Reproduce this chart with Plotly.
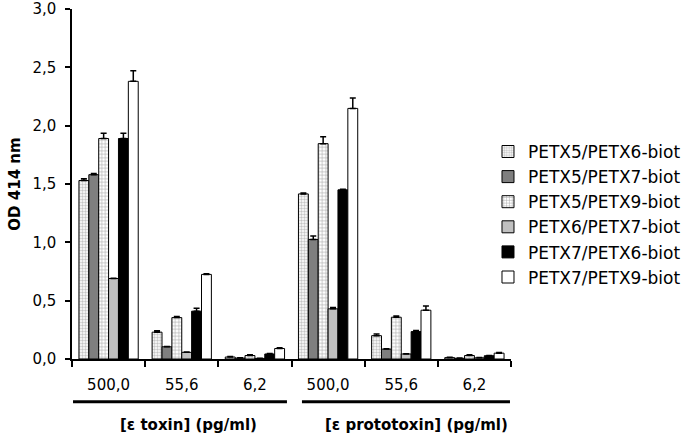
import plotly.graph_objects as go

categories = ["500,0", "55,6", "6,2", "500,0", "55,6", "6,2"]
series_names = ["PETX5/PETX6-biot", "PETX5/PETX7-biot", "PETX5/PETX9-biot",
                "PETX6/PETX7-biot", "PETX7/PETX6-biot", "PETX7/PETX9-biot"]
values = [
    [1.53, 0.23, 0.017, 1.415, 0.20, 0.012],
    [1.58, 0.105, 0.008, 1.025, 0.085, 0.006],
    [1.89, 0.355, 0.03, 1.846, 0.358, 0.03],
    [0.69, 0.057, 0.005, 0.43, 0.043, 0.01],
    [1.89, 0.41, 0.043, 1.45, 0.235, 0.028],
    [2.38, 0.725, 0.09, 2.148, 0.418, 0.05],
]
errors = [
    [0.015, 0.012, 0.004, 0.008, 0.015, 0.003],
    [0.01, 0.003, 0.002, 0.03, 0.003, 0.002],
    [0.045, 0.01, 0.006, 0.06, 0.01, 0.006],
    [0.003, 0.002, 0.002, 0.012, 0.002, 0.002],
    [0.045, 0.025, 0.004, 0.005, 0.01, 0.003],
    [0.09, 0.005, 0.006, 0.09, 0.037, 0.005],
]
group_labels = ["[ε toxin] (pg/ml)", "[ε prototoxin] (pg/ml)"]

styles = [
    dict(color="white", pattern=dict(shape=".", fgcolor="#8a8a8a", bgcolor="white", size=3, solidity=0.5)),
    dict(color="#7f7f7f"),
    dict(color="white", pattern=dict(shape="+", fgcolor="#606060", bgcolor="white", size=3.5, solidity=0.35)),
    dict(color="#c0c0c0"),
    dict(color="black"),
    dict(color="white"),
]

x = list(range(len(categories)))
fig = go.Figure()
for name, v, e, st in zip(series_names, values, errors, styles):
    marker = dict(line=dict(color="black", width=1))
    marker.update(st)
    fig.add_trace(go.Bar(
        x=x, y=v, name=name, marker=marker,
        error_y=dict(type="data", array=e, arrayminus=[0] * len(e), color="black", thickness=1.5, width=3),
    ))

font = "DejaVu Sans, sans-serif"
fig.update_layout(
    width=686, height=437,
    margin=dict(l=72, r=175, t=9, b=78, autoexpand=False),
    paper_bgcolor="white", plot_bgcolor="white",
    separators=",.",
    barmode="group", bargap=0.19, bargroupgap=0,
    font=dict(family=font, size=15, color="black"),
    showlegend=True,
    legend=dict(x=0.9476, y=0.413, xanchor="left", yanchor="middle", font=dict(size=17),
                tracegroupgap=0, itemwidth=30, bgcolor="rgba(0,0,0,0)"),
    xaxis=dict(range=[-0.5, 5.5], tickmode="array", tickvals=x, ticktext=categories,
               ticks="", showline=True, linecolor="black", linewidth=1.5, showgrid=False, zeroline=False,
               tickfont=dict(size=15), ticklabelstandoff=11, automargin=False,
               minor=dict(tickmode="linear", tick0=-0.5, dtick=1, ticks="outside", ticklen=6,
                          tickcolor="black", tickwidth=1.5, showgrid=False)),
    yaxis=dict(range=[0, 3.0001], tickmode="linear", tick0=0, dtick=0.5, tickformat=".1f",
               ticks="outside", ticklen=5, tickcolor="black", tickwidth=1.5,
               showline=True, linecolor="black", linewidth=1.5, showgrid=False, zeroline=False,
               tickfont=dict(size=15), ticklabelstandoff=6, automargin=False,
               ticklabeloverflow="allow",
               title=dict(text="<b>OD 414 nm</b>", font=dict(size=15), standoff=8)),
)

# group underline and label
line_spans = [(-0.486, 2.438), (2.643, 5.486)]
label_x = [1.099, 4.215]
for (x0, x1), lx, lab in zip(line_spans, label_x, group_labels):
    fig.add_shape(type="line", xref="x", yref="paper", x0=x0, x1=x1, y0=-0.122, y1=-0.122,
                  line=dict(color="black", width=3))
    fig.add_annotation(xref="x", yref="paper", x=lx, y=-0.1875, text="<b>" + lab + "</b>",
                       showarrow=False, font=dict(size=15), yanchor="middle")

fig.write_html("out.html", config={"displayModeBar": False},
               post_script="document.body.style.margin='0';")
